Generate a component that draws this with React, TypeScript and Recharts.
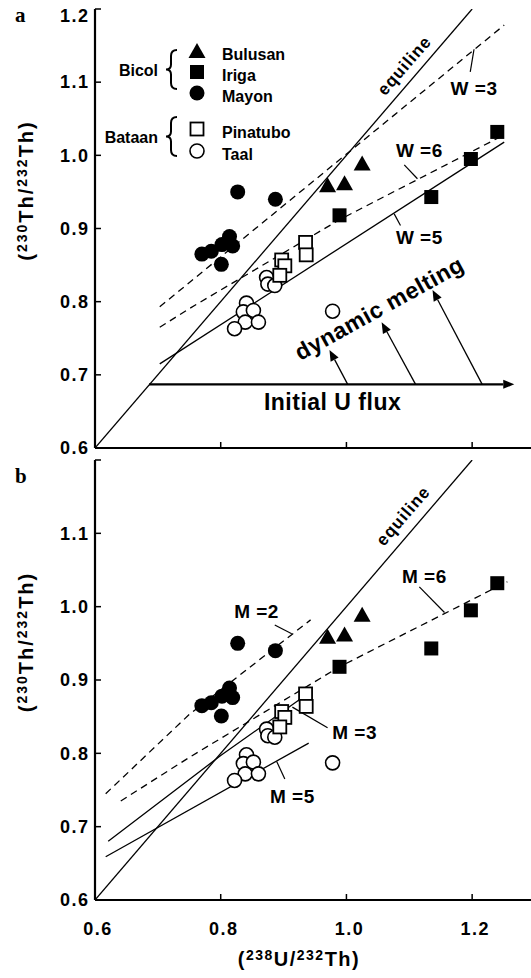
import { Legend, ReferenceDot, ReferenceLine, Scatter, ScatterChart, XAxis, YAxis } from "recharts";

const INK = "#000";
const SANS = '"Liberation Sans", Arial, Helvetica, sans-serif';
const SERIF = '"Liberation Serif", "Times New Roman", serif';

// samples: [(238U/232Th), (230Th/232Th)]
const mayon = [[0.77, 0.865], [0.785, 0.869], [0.801, 0.851], [0.814, 0.889], [0.802, 0.878], [0.819, 0.876], [0.827, 0.95], [0.887, 0.94]];
const bulusan = [[0.97, 0.959], [0.997, 0.962], [1.025, 0.989]];
const iriga = [[0.989, 0.918], [1.135, 0.943], [1.198, 0.995], [1.24, 1.032]];
const taal = [[0.841, 0.798], [0.836, 0.786], [0.852, 0.788], [0.839, 0.772], [0.86, 0.772], [0.822, 0.763], [0.873, 0.833], [0.875, 0.824], [0.886, 0.822], [0.978, 0.787]];
const pinatubo = [[0.935, 0.881], [0.936, 0.864], [0.897, 0.857], [0.902, 0.849], [0.894, 0.836]];

const xTicks = [0.6, 0.8, 1.0, 1.2];
const yTicks = [0.6, 0.7, 0.8, 0.9, 1.0, 1.1, 1.2];

const equiline = [[0.6, 0.6], [1.2, 1.2]];
// panel a - fluxing curves
const w3 = [[0.703, 0.793], [1.251, 1.178]];
const w6 = [[0.703, 0.765], [0.751, 0.791], [0.989, 0.912], [1.251, 1.028]];
const w5 = [[0.703, 0.715], [1.251, 1.018]];
// panel b - melting curves
const m2 = [[0.617, 0.745], [0.75, 0.853], [0.943, 0.982]];
const m3Dashed = [[0.641, 0.735], [0.751, 0.795], [0.989, 0.918], [1.256, 1.034]];
const m3 = [[0.621, 0.68], [0.8, 0.797], [0.925, 0.873]];
const m5 = [[0.617, 0.659], [0.94, 0.814]];

const groups = [
  { name: "Mayon", kind: "circle", data: mayon },
  { name: "Bulusan", kind: "triangle", data: bulusan },
  { name: "Iriga", kind: "square", data: iriga },
  { name: "Taal", kind: "openCircle", data: taal },
  { name: "Pinatubo", kind: "openSquare", data: pinatubo },
];

const toPts = (arr: number[][]) => arr.map(([x, y]) => ({ x, y }));

function sym(kind: string, cx: number, cy: number) {
  if (kind === "triangle") return <polygon points={`${cx},${cy - 8} ${cx + 8.5},${cy + 7} ${cx - 8.5},${cy + 7}`} fill={INK} />;
  if (kind === "square") return <rect x={cx - 7} y={cy - 7} width={14} height={14} fill={INK} />;
  if (kind === "circle") return <circle cx={cx} cy={cy} r={7.5} fill={INK} />;
  if (kind === "openSquare")
    return <rect x={cx - 6.5} y={cy - 6.5} width={13} height={13} fill="#fff" stroke={INK} strokeWidth={1.8} />;
  return <circle cx={cx} cy={cy} r={7} fill="#fff" stroke={INK} strokeWidth={1.6} />;
}

function brace(xl: number, y0: number, y1: number) {
  const xr = xl + 11;
  const xm = xl + 5;
  const ym = (y0 + y1) / 2;
  return `M${xr},${y0} Q${xm},${y0} ${xm},${y0 + 6} L${xm},${ym - 5} Q${xm},${ym} ${xl},${ym} Q${xm},${ym} ${xm},${ym + 5} L${xm},${y1 - 6} Q${xm},${y1} ${xr},${y1}`;
}

const legendRows: [string, string, number][] = [
  ["triangle", "Bulusan", 51],
  ["square", "Iriga", 72],
  ["circle", "Mayon", 93],
  ["openSquare", "Pinatubo", 129],
  ["openCircle", "Taal", 151],
];

function LegendBox() {
  return (
    <svg width={300} height={170} style={{ display: "block" }}>
      <g fontFamily={SANS} fontWeight={700} fontSize={16} fill={INK}>
        <text x={158} y={70} dy="0.35em" textAnchor="end">Bicol</text>
        <path d={brace(166, 50, 89)} fill="none" stroke={INK} strokeWidth={2} />
        <text x={158} y={137} dy="0.35em" textAnchor="end">Bataan</text>
        <path d={brace(166, 117, 156)} fill="none" stroke={INK} strokeWidth={2} />
        {legendRows.map(([kind, name, y]) => (
          <g key={name}>
            {sym(kind, 197, y)}
            <text x={222} y={y + 3} dy="0.35em">{name}</text>
          </g>
        ))}
      </g>
    </svg>
  );
}

function ArrowLine(p: any) {
  const { x1, y1, x2, y2, w } = p;
  const a = Math.atan2(y2 - y1, x2 - x1);
  const len = 11;
  const half = 4.5;
  const bx = x2 - len * Math.cos(a);
  const by = y2 - len * Math.sin(a);
  const px = -Math.sin(a) * half;
  const py = Math.cos(a) * half;
  return (
    <g>
      <line x1={x1} y1={y1} x2={bx} y2={by} stroke={INK} strokeWidth={w} />
      <polygon points={`${x2},${y2} ${bx + px},${by + py} ${bx - px},${by - py}`} fill={INK} />
    </g>
  );
}

function BottomTick({ x, y, payload, showLabel }: any) {
  return (
    <g>
      <line x1={x} x2={x} y1={y} y2={y - 6} stroke={INK} strokeWidth={1.5} />
      {showLabel ? (
        <text x={x + 3} y={y + 29} dy="0.35em" textAnchor="middle" fontFamily={SANS} fontWeight={700} fontSize={18} letterSpacing={1.5} fill={INK}>
          {Number(payload.value).toFixed(1)}
        </text>
      ) : null}
    </g>
  );
}

function LeftTick({ x, y, payload, topLabel }: any) {
  const v = Number(payload.value);
  const isTop = v > 1.19;
  const show = !(isTop && topLabel === "none");
  return (
    <g>
      <line x1={x} x2={x + 6} y1={y} y2={y} stroke={INK} strokeWidth={1.5} />
      {show ? (
        <text x={x - 5.5} y={y + (isTop ? 7 : 0)} dy="0.35em" textAnchor="end" fontFamily={SANS} fontWeight={700} fontSize={18} letterSpacing={1.5} fill={INK}>
          {v.toFixed(1)}
        </text>
      ) : null}
    </g>
  );
}

function YTitle({ vb, letter, letterY }: any) {
  const cx = 33;
  const cy = vb.y + vb.height / 2 - 38;
  return (
    <g fontFamily={SANS} fontWeight={700} fill={INK}>
      <text x={15} y={letterY} fontFamily={SERIF} fontSize={21}>{letter}</text>
      <text x={cx} y={cy} textAnchor="middle" fontSize={20} letterSpacing={2} transform={`rotate(-90 ${cx} ${cy})`}>
        <tspan>(</tspan>
        <tspan fontSize={14} dy={-6}>230</tspan>
        <tspan dy={6}>Th/</tspan>
        <tspan fontSize={14} dy={-6}>232</tspan>
        <tspan dy={6}>Th)</tspan>
      </text>
    </g>
  );
}

function XTitle({ vb }: any) {
  const cx = vb.x + vb.width / 2 - 16;
  const y = vb.y + 66;
  return (
    <text x={cx} y={y} textAnchor="middle" fontFamily={SANS} fontWeight={700} fontSize={20} letterSpacing={1.5} fill={INK}>
      <tspan>(</tspan>
      <tspan fontSize={14} dy={-6}>238</tspan>
      <tspan dy={6}>U/</tspan>
      <tspan fontSize={14} dy={-6}>232</tspan>
      <tspan dy={6}>Th)</tspan>
    </text>
  );
}

type Note = { x: number; y: number; text: string; size: number; angle?: number; ls?: number };

const notesA: Note[] = [
  { x: 1.092, y: 1.123, text: "equiline", size: 17, angle: -49, ls: 1 },
  { x: 1.203, y: 1.092, text: "W =3", size: 19, ls: 0.5 },
  { x: 1.116, y: 1.007, text: "W =6", size: 19, ls: 0.5 },
  { x: 1.116, y: 0.888, text: "W =5", size: 19, ls: 0.5 },
  { x: 1.052, y: 0.791, text: "dynamic melting", size: 23, angle: -29, ls: 0.5 },
  { x: 0.978, y: 0.663, text: "Initial U flux", size: 23, ls: 0.5 },
];
const notesB: Note[] = [
  { x: 1.09, y: 1.124, text: "equiline", size: 17, angle: -49, ls: 1 },
  { x: 0.857, y: 0.993, text: "M =2", size: 19, ls: 0.5 },
  { x: 1.124, y: 1.042, text: "M =6", size: 19, ls: 0.5 },
  { x: 1.013, y: 0.829, text: "M =3", size: 19, ls: 0.5 },
  { x: 0.914, y: 0.742, text: "M =5", size: 19, ls: 0.5 },
];

const leadersA = [
  [[1.197, 1.114], [1.203, 1.145]],
  [[1.092, 0.987], [1.113, 0.968]],
  [[1.076, 0.92], [1.086, 0.904]],
];
const leadersB = [
  [[0.886, 0.975], [0.913, 0.963]],
  [[1.116, 1.027], [1.156, 0.992]],
  [[0.914, 0.863], [0.97, 0.835]],
  [[0.889, 0.789], [0.902, 0.765]],
];

const arrowsA = [
  { from: [0.686, 0.687], to: [1.267, 0.687], w: 2.2 },
  { from: [1.002, 0.687], to: [0.973, 0.734], w: 1.3 },
  { from: [1.11, 0.687], to: [1.056, 0.772], w: 1.3 },
  { from: [1.216, 0.687], to: [1.137, 0.816], w: 1.3 },
];

const curvesA = [{ d: equiline }, { d: w3, dash: true }, { d: w6, dash: true }, { d: w5 }];
const curvesB = [{ d: equiline }, { d: m2, dash: true }, { d: m3Dashed, dash: true }, { d: m3 }, { d: m5 }];

function Panel(props: any) {
  const { height, top, bottom, bottomH, curves, notes, leaders, arrows, letter, letterY, xLabels, topLabel, legend } = props;
  const axisLine = { stroke: INK, strokeWidth: 2.2 };
  return (
    <ScatterChart width={560} height={height} margin={{ top, right: 25, bottom, left: 0 }}>
      <XAxis
        type="number"
        dataKey="x"
        domain={[0.6, 1.3]}
        ticks={xTicks}
        interval={0}
        allowDataOverflow
        height={bottomH}
        tickSize={0}
        tickMargin={0}
        tickLine={false}
        axisLine={axisLine}
        tick={(p: any) => <BottomTick {...p} showLabel={xLabels} />}
        label={xLabels ? { content: (p: any) => <XTitle vb={p.viewBox} /> } : undefined}
      />
      <XAxis
        xAxisId="t"
        orientation="top"
        type="number"
        domain={[0.6, 1.3]}
        ticks={xTicks}
        interval={0}
        allowDataOverflow
        height={0}
        tickSize={0}
        tickMargin={0}
        tickLine={false}
        axisLine={axisLine}
        tick={(p: any) => <line x1={p.x} x2={p.x} y1={p.y} y2={p.y + 6} stroke={INK} strokeWidth={1.5} />}
      />
      <YAxis
        type="number"
        dataKey="y"
        domain={[0.6, 1.2]}
        ticks={yTicks}
        interval={0}
        allowDataOverflow
        width={95}
        tickSize={0}
        tickMargin={0}
        tickLine={false}
        axisLine={axisLine}
        tick={(p: any) => <LeftTick {...p} topLabel={topLabel} />}
        label={{ content: (p: any) => <YTitle vb={p.viewBox} letter={letter} letterY={letterY} /> }}
      />
      <YAxis
        yAxisId="r"
        orientation="right"
        type="number"
        domain={[0.6, 1.2]}
        ticks={yTicks}
        interval={0}
        allowDataOverflow
        width={0}
        tickSize={0}
        tickMargin={0}
        tickLine={false}
        axisLine={axisLine}
        tick={(p: any) => <line x1={p.x - 6} x2={p.x} y1={p.y} y2={p.y} stroke={INK} strokeWidth={1.5} />}
      />
      {curves.map((c: any, i: number) => (
        <Scatter
          key={`c${i}`}
          data={toPts(c.d)}
          fill="none"
          line={{ stroke: INK, strokeWidth: 1.3, strokeDasharray: c.dash ? "7 5" : undefined }}
          shape={() => <g />}
          legendType="none"
          isAnimationActive={false}
        />
      ))}
      {leaders.map((l: number[][], i: number) => (
        <ReferenceLine key={`l${i}`} segment={[{ x: l[0][0], y: l[0][1] }, { x: l[1][0], y: l[1][1] }]} stroke={INK} strokeWidth={1.2} />
      ))}
      {arrows.map((a: any, i: number) => (
        <ReferenceLine
          key={`a${i}`}
          segment={[{ x: a.from[0], y: a.from[1] }, { x: a.to[0], y: a.to[1] }]}
          stroke={INK}
          shape={(p: any) => <ArrowLine {...p} w={a.w} />}
        />
      ))}
      {groups.map((g) => (
        <Scatter
          key={g.name}
          name={g.name}
          data={toPts(g.data)}
          fill={INK}
          shape={(p: any) => sym(g.kind, p.cx, p.cy)}
          isAnimationActive={false}
        />
      ))}
      {notes.map((n: Note, i: number) => (
        <ReferenceDot
          key={`n${i}`}
          x={n.x}
          y={n.y}
          r={0}
          shape={(p: any) => (
            <text
              x={p.cx}
              y={p.cy}
              dy="0.35em"
              textAnchor="middle"
              transform={n.angle ? `rotate(${n.angle} ${p.cx} ${p.cy})` : undefined}
              fontFamily={SANS}
              fontWeight={700}
              fontSize={n.size}
              letterSpacing={n.ls ?? 0}
              fill={INK}
            >
              {n.text}
            </text>
          )}
        />
      ))}
      {legend ? (
        <Legend
          layout="vertical"
          align="center"
          verticalAlign="middle"
          wrapperStyle={{ left: 0, top: 0, width: 300, height: 170 }}
          content={() => <LegendBox />}
        />
      ) : null}
    </ScatterChart>
  );
}

export default function App() {
  return (
    <div style={{ position: "absolute", left: 0, top: 0, width: 531, height: 978, overflow: "hidden", background: "#fff" }}>
      <div style={{ position: "absolute", left: 0, top: 0 }}>
        <Panel
          height={462}
          top={9}
          bottom={10}
          bottomH={4}
          curves={curvesA}
          notes={notesA}
          leaders={leadersA}
          arrows={arrowsA}
          letter="a"
          letterY={22}
          xLabels={false}
          topLabel="shift"
          legend
        />
      </div>
      <div style={{ position: "absolute", left: 0, top: 452 }}>
        <Panel
          height={526}
          top={8}
          bottom={0}
          bottomH={78}
          curves={curvesB}
          notes={notesB}
          leaders={leadersB}
          arrows={[]}
          letter="b"
          letterY={31}
          xLabels
          topLabel="none"
          legend={false}
        />
      </div>
    </div>
  );
}
